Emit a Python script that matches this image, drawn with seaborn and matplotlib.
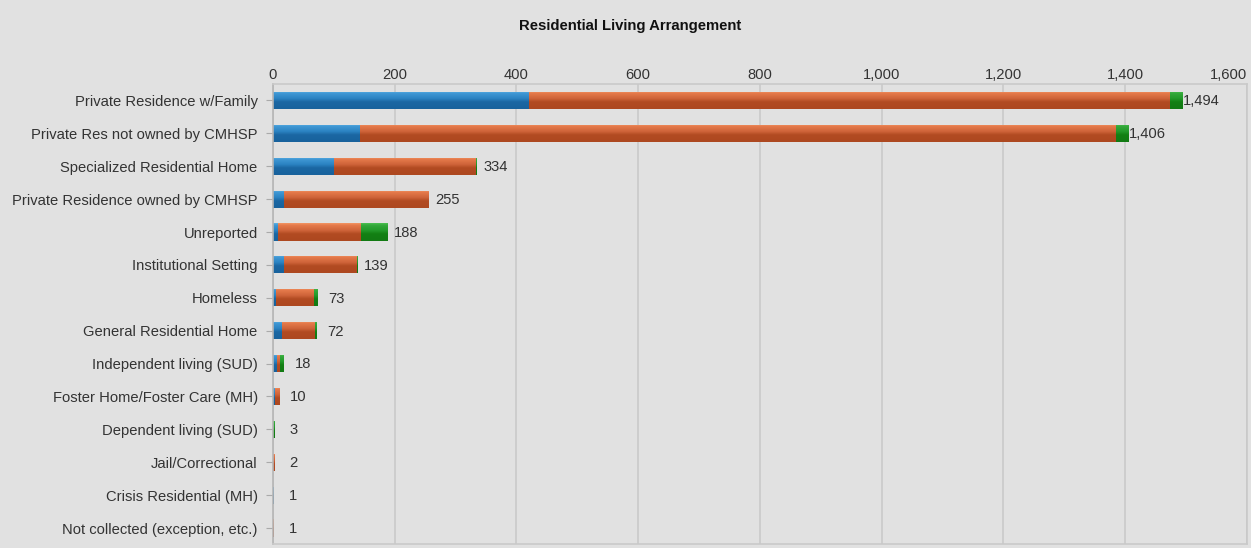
import numpy as np
import pandas as pd
import matplotlib
matplotlib.use("Agg")
import matplotlib.pyplot as plt
from matplotlib.colors import LinearSegmentedColormap
import seaborn as sns

# Residential living arrangement counts, split into three segments
categories = [
    "Private Residence w/Family",
    "Private Res not owned by CMHSP",
    "Specialized Residential Home",
    "Private Residence owned by CMHSP",
    "Unreported",
    "Institutional Setting",
    "Homeless",
    "General Residential Home",
    "Independent living (SUD)",
    "Foster Home/Foster Care (MH)",
    "Dependent living (SUD)",
    "Jail/Correctional",
    "Crisis Residential (MH)",
    "Not collected (exception, etc.)",
]
seg_blue = [419, 142, 99, 18, 8, 18, 4, 14, 5, 3, 0, 0, 1, 0]
seg_orange = [1054, 1243, 234, 237, 135, 119, 62, 55, 5, 7, 0, 2, 0, 1]
seg_green = [21, 21, 1, 0, 45, 2, 7, 3, 8, 0, 3, 0, 0, 0]
totals = [1494, 1406, 334, 255, 188, 139, 73, 72, 18, 10, 3, 2, 1, 1]
x_ticks = [0, 200, 400, 600, 800, 1000, 1200, 1400, 1600]

BG = "#e1e1e1"
GRID = "#c9c9c9"
TEXT = "#333333"

# gradient stops (top -> bottom) for each segment
shades = {
    "blue": ["#5db1e4", "#3f97d4", "#2c84c3", "#1b67a3", "#18629c"],
    "orange": ["#f29565", "#e4794a", "#d0653a", "#b24b22", "#ad4820"],
    "green": ["#4cc052", "#33a83a", "#239a2a", "#138014", "#127a13"],
}

df = pd.DataFrame({
    "category": categories,
    "blue": seg_blue,
    "orange": seg_orange,
    "green": seg_green,
    "total": totals,
})
df["cum_blue"] = df["blue"]
df["cum_orange"] = df["blue"] + df["orange"]
df["cum_green"] = df["cum_orange"] + df["green"]

sns.set_theme(style="white")
plt.rcParams["font.family"] = ["Liberation Sans", "DejaVu Sans"]

fig = plt.figure(figsize=(12.51, 5.48), dpi=100)
fig.patch.set_facecolor(BG)
ax = fig.add_axes([0.2182, 0.0064, 0.7784, 0.8403])
ax.set_facecolor(BG)

# stacked bars drawn as overlapping cumulative layers
layers = [("cum_green", "green"), ("cum_orange", "orange"), ("cum_blue", "blue")]
layer_patches = []
for col, name in layers:
    n_before = len(ax.patches)
    sns.barplot(data=df, y="category", x=col, color=shades[name][2],
                orient="h", width=0.52, ax=ax, errorbar=None,
                linewidth=0, zorder=2)
    layer_patches.append((name, ax.patches[n_before:]))

ax.set_xlim(0, 1600)
ax.set_ylim(len(categories) - 0.5, -0.5)

# vertical gradient fill clipped to every bar
grad = np.linspace(0, 1, 64).reshape(-1, 1)
for li, (name, patches) in enumerate(layer_patches):
    cmap = LinearSegmentedColormap.from_list(
        name, list(zip([0, 0.12, 0.4, 0.6, 1.0], shades[name])))
    for p in patches:
        w = p.get_width()
        if w <= 0:
            continue
        x0, y0 = p.get_x(), p.get_y()
        h = p.get_height()
        p.set_facecolor("none")
        im = ax.imshow(grad, cmap=cmap, aspect="auto",
                       extent=(x0, x0 + w, y0 + h, y0),
                       zorder=2 + 0.1 * (li + 1), interpolation="bilinear")
        im.set_clip_path(p)

# total labels to the right of each bar
for i, t in enumerate(totals):
    ax.annotate(f"{t:,}", xy=(t, i), xytext=(13.7, -0.6),
                textcoords="offset points", ha="center", va="center",
                fontsize=10.6, color=TEXT, zorder=5)

ax.xaxis.tick_top()
ax.set_xticks(x_ticks)
ax.set_xticklabels([f"{v:,}" for v in x_ticks])
ax.get_xticklabels()[-1].set_horizontalalignment("right")
ax.tick_params(axis="x", length=0, pad=1.5, labelsize=10.6, labelcolor=TEXT)
ax.tick_params(axis="y", length=5, width=0.8, color="#aaaaaa", pad=6,
               labelsize=10.6, labelcolor=TEXT, left=True)
ax.set_xlabel("")
ax.set_ylabel("")
ax.grid(axis="x", color=GRID, linewidth=1.2, zorder=0)
ax.set_axisbelow(True)
for side in ["top", "right", "bottom"]:
    ax.spines[side].set_color(GRID)
    ax.spines[side].set_linewidth(1.2)
ax.spines["left"].set_color("#b5b5b5")
ax.spines["left"].set_linewidth(1.2)

fig.text(0.504, 0.953, "Residential Living Arrangement", ha="center",
         va="center", fontsize=10.7, fontweight="bold", color="#111111")

fig.savefig("out.png", dpi=100, facecolor=BG)
